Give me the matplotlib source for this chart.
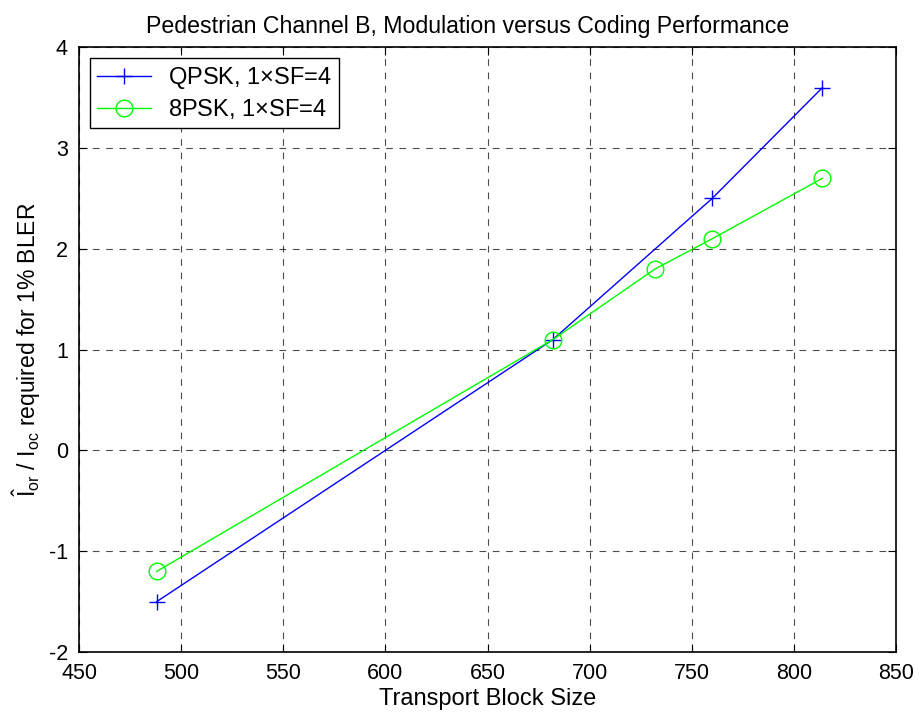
import matplotlib
matplotlib.use('Agg')
import matplotlib.pyplot as plt

plt.rcParams['font.family'] = ['Liberation Sans', 'DejaVu Sans']
plt.rcParams['mathtext.fontset'] = 'custom'
plt.rcParams['mathtext.rm'] = 'Liberation Sans'
plt.rcParams['mathtext.default'] = 'regular'
plt.rcParams['axes.unicode_minus'] = False

# data
qpsk_tbs = [488, 682, 760, 814]
qpsk_ior = [-1.5, 1.1, 2.5, 3.6]
psk8_tbs = [488, 682, 732, 760, 814]
psk8_ior = [-1.2, 1.1, 1.8, 2.1, 2.7]
xticks = [450, 500, 550, 600, 650, 700, 750, 800, 850]
yticks = [-2, -1, 0, 1, 2, 3, 4]

fig = plt.figure(figsize=(9.19, 7.15), dpi=100)
ax = fig.add_axes([0.086, 0.088, 0.889, 0.846])

ax.plot(qpsk_tbs, qpsk_ior, color='#0000ff', lw=1, marker='+', ms=11,
        mew=1, label=r'QPSK, 1$\times$SF=4')
ax.plot(psk8_tbs, psk8_ior, color='#00ff00', lw=1, marker='o', ms=12,
        mfc='none', mew=1, label=r'8PSK, 1$\times$SF=4')

ax.set_xlim(450, 850)
ax.set_ylim(-2, 4)
ax.set_xticks(xticks)
ax.set_yticks(yticks)
ax.grid(True, color='black', linestyle=(0, (6, 6)), lw=0.8, alpha=0.7)
ax.tick_params(direction='in', top=True, right=True, labelsize=15.5,
               length=6, pad=8)
for s in ax.spines.values():
    s.set_linewidth(1.2)

ax.set_title('Pedestrian Channel B, Modulation versus Coding Performance',
             fontsize=16.7, pad=10, x=0.476)
ax.set_xlabel('Transport Block Size', fontsize=17, labelpad=3)
ax.set_ylabel(r'$\hat{I}_{or}$ / $I_{oc}$ required for 1% BLER', fontsize=16.5,
              labelpad=4)

leg = ax.legend(loc='upper left', fontsize=17, fancybox=False, framealpha=1,
                edgecolor='black', borderaxespad=0.45, handlelength=2.3,
                borderpad=0.3, labelspacing=0.25, handletextpad=0.7)
leg.get_frame().set_linewidth(1)

fig.savefig('out.png', dpi=100)
